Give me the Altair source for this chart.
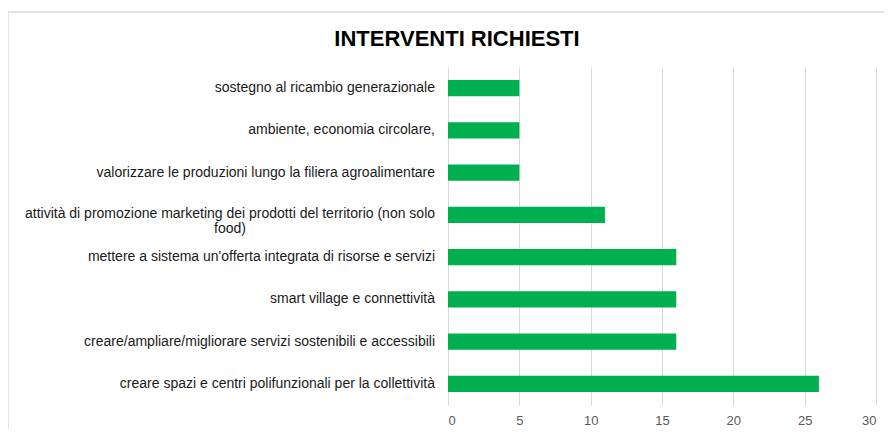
import altair as alt
import pandas as pd

categories = [
    "sostegno al ricambio generazionale",
    "ambiente, economia circolare,",
    "valorizzare le produzioni lungo la filiera agroalimentare",
    "attività di promozione marketing dei prodotti del territorio (non solo\nfood)",
    "mettere a sistema un'offerta integrata di risorse e servizi ",
    "smart village e connettività",
    "creare/ampliare/migliorare  servizi  sostenibili e accessibili",
    "creare spazi e centri polifunzionali per la collettività",
]
values = [5, 5, 5, 11, 16, 16, 16, 26]
x_ticks = [0, 5, 10, 15, 20, 25, 30]

df = pd.DataFrame({"cat": categories, "val": values})
df["wrapped"] = df["cat"].str.contains("\n")

W, H = 428, 338
PAD_L, PAD_T = 440, 59
FONT = "Liberation Sans"

y_enc = alt.Y("cat:N", sort=categories, axis=None,
              scale=alt.Scale(paddingInner=0.62, paddingOuter=0.31))

bars = alt.Chart(df).mark_bar(color="#00B050").encode(
    x=alt.X("val:Q", scale=alt.Scale(domain=[0, 30], nice=False),
            axis=alt.Axis(values=x_ticks, title=None, grid=True, gridColor="#D9D9D9",
                          gridWidth=1, domain=False, ticks=False, labelPadding=9,
                          labelColor="#595959", labelFontSize=13, labelFont=FONT)),
    y=y_enc,
)

label_style = dict(baseline="middle", fontSize=14, font=FONT, color="#1a1a1a",
                   lineBreak="\n", lineHeight=15)

labels = alt.Chart(df).transform_filter("!datum.wrapped").mark_text(
    align="right", **label_style).encode(
    y=y_enc, x=alt.value(-13), text="cat:N")

labels_wrapped = alt.Chart(df).transform_filter("datum.wrapped").mark_text(
    align="center", dy=-1, **label_style).encode(
    y=y_enc, x=alt.value(-218), text="cat:N")

border_df = pd.DataFrame({"a": [0]})
top_border = alt.Chart(border_df).mark_rule(color="#D9D9D9", strokeWidth=1.5).encode(
    x=alt.value(-PAD_L), x2=alt.value(W + 8), y=alt.value(-(PAD_T - 4)))
left_border = alt.Chart(border_df).mark_rule(color="#D9D9D9", strokeWidth=1.5).encode(
    x=alt.value(-PAD_L), y=alt.value(-(PAD_T - 4)), y2=alt.value(H + 24))

chart = alt.layer(top_border, left_border, bars, labels, labels_wrapped).properties(
    width=W, height=H,
    title=alt.TitleParams("INTERVENTI RICHIESTI", fontSize=22, font=FONT,
                          fontWeight="bold", color="#000000", anchor="middle",
                          baseline="alphabetic", dx=-(W / 2 + PAD_L - 449),
                          offset=-57),
    autosize=alt.AutoSizeParams(type="none"),
    padding={"left": PAD_L, "top": PAD_T, "right": 8, "bottom": 24},
).configure_view(stroke=None)

chart.save("out.html", embed_options={"renderer": "svg", "actions": False})
